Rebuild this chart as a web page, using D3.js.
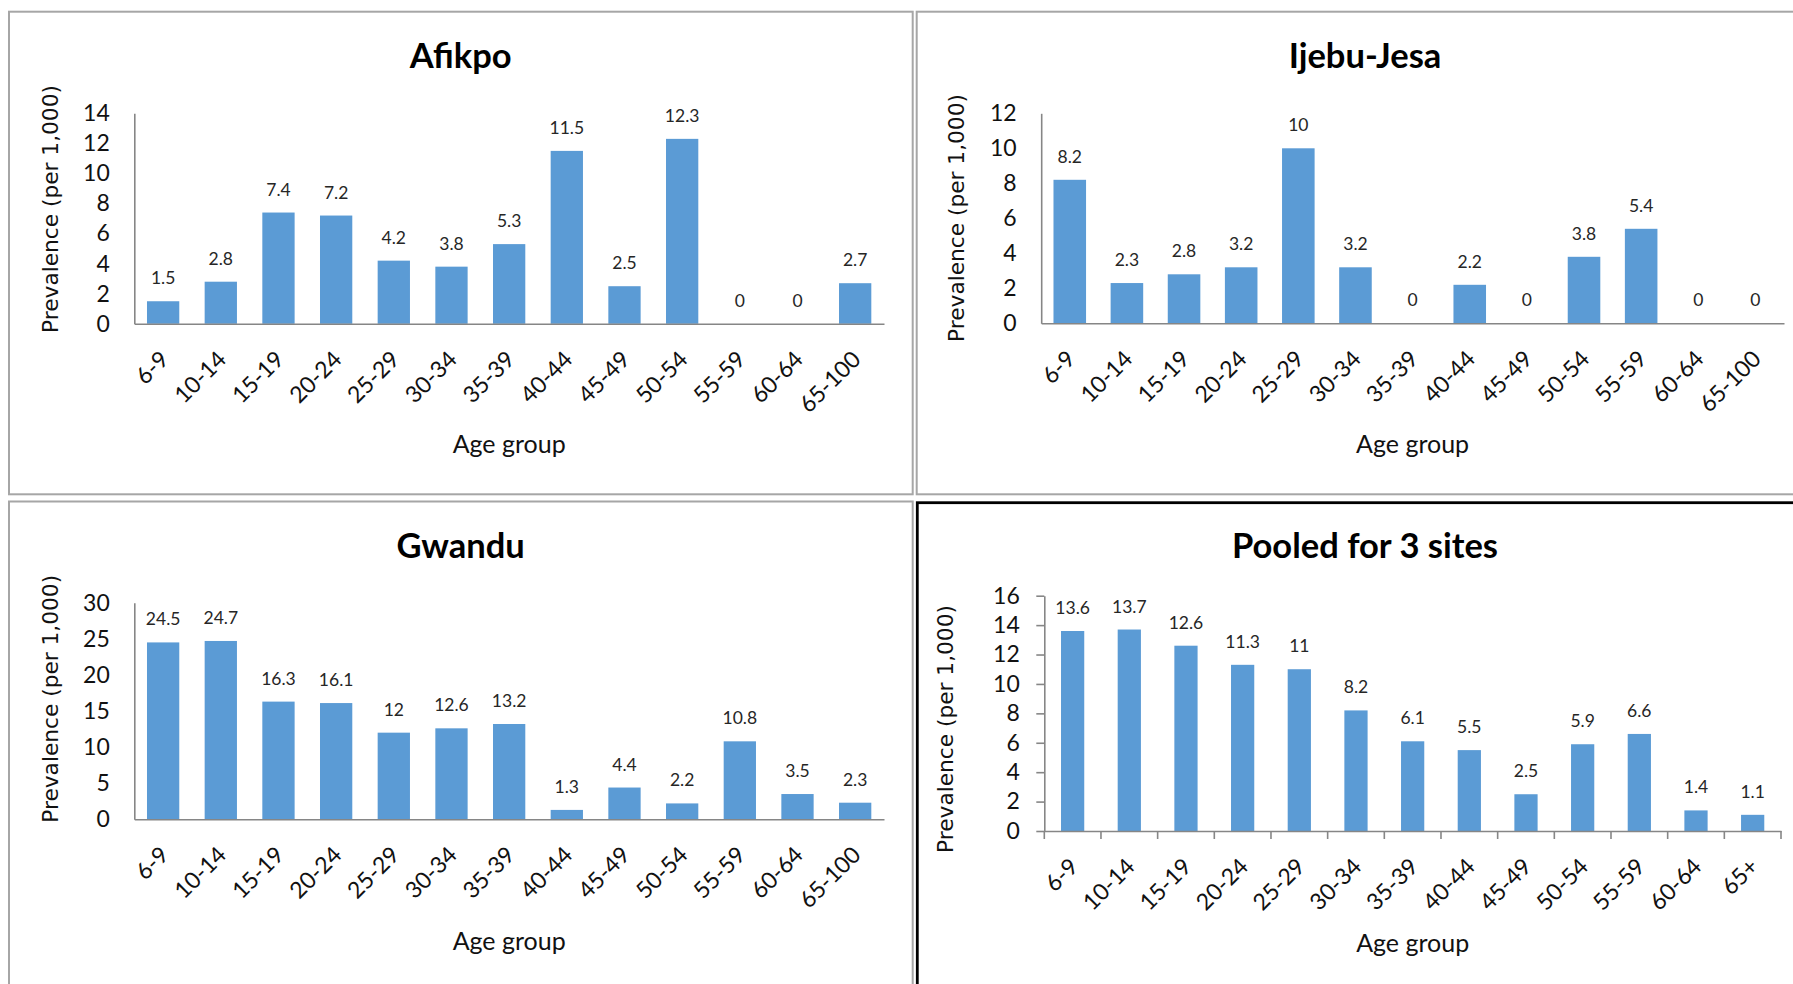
<!DOCTYPE html>
<html>
<head>
<meta charset="utf-8">
<script src="https://cdn.jsdelivr.net/npm/d3@7"></script>
<style>
  html, body { margin: 0; padding: 0; background: #fff; }
  svg { display: block; }
</style>
</head>
<body>
<svg id="chart" width="1793" height="984"></svg>
<script>
// Age groups used by the three site charts and by the pooled chart
const siteAgeGroups = ["6-9","10-14","15-19","20-24","25-29","30-34","35-39","40-44","45-49","50-54","55-59","60-64","65-100"];
const pooledAgeGroups = ["6-9","10-14","15-19","20-24","25-29","30-34","35-39","40-44","45-49","50-54","55-59","60-64","65+"];

// Prevalence per 1,000 by age group
const afikpoValues = [1.5, 2.8, 7.4, 7.2, 4.2, 3.8, 5.3, 11.5, 2.5, 12.3, 0, 0, 2.7];
const ijebuJesaValues = [8.2, 2.3, 2.8, 3.2, 10, 3.2, 0, 2.2, 0, 3.8, 5.4, 0, 0];
const gwanduValues = [24.5, 24.7, 16.3, 16.1, 12, 12.6, 13.2, 1.3, 4.4, 2.2, 10.8, 3.5, 2.3];
const pooledValues = [13.6, 13.7, 12.6, 11.3, 11, 8.2, 6.1, 5.5, 2.5, 5.9, 6.6, 1.4, 1.1];

// Y-axis tick labels for each chart
const afikpoTicks = [0, 2, 4, 6, 8, 10, 12, 14];
const ijebuJesaTicks = [0, 2, 4, 6, 8, 10, 12];
const gwanduTicks = [0, 5, 10, 15, 20, 25, 30];
const pooledTicks = [0, 2, 4, 6, 8, 10, 12, 14, 16];

const titles = ["Afikpo", "Ijebu-Jesa", "Gwandu", "Pooled for 3 sites"];
const yAxisTitle = "Prevalence (per 1,000)";
const xAxisTitle = "Age group";

// Layout of the four chart panels
const panels = [
  { title: titles[0], cats: siteAgeGroups, values: afikpoValues, ticks: afikpoTicks,
    frame: { x: 9, y: 11.7, w: 903.7, h: 482.6, stroke: "#a6a6a6", sw: 2 },
    plot: { left: 134.3, right: 884, top: 113.3, bottom: 323.8 },
    pad: 0.44, titleX: 460.7, titleY: 68.3, yTitleX: 58, yTitleY: 209, xTitleY: 453.3, boxTicks: false },
  { title: titles[1], cats: siteAgeGroups, values: ijebuJesaValues, ticks: ijebuJesaTicks,
    frame: { x: 916.7, y: 11.7, w: 1000, h: 482.6, stroke: "#a6a6a6", sw: 2 },
    plot: { left: 1041.2, right: 1784, top: 113.3, bottom: 323.3 },
    pad: 0.43, titleX: 1365, titleY: 68.3, yTitleX: 964, yTitleY: 218, xTitleY: 453.3, boxTicks: false },
  { title: titles[2], cats: siteAgeGroups, values: gwanduValues, ticks: gwanduTicks,
    frame: { x: 9, y: 501.5, w: 903.7, h: 600, stroke: "#a6a6a6", sw: 2 },
    plot: { left: 134.3, right: 884, top: 602.7, bottom: 819.3 },
    pad: 0.44, titleX: 460.7, titleY: 558.3, yTitleX: 58, yTitleY: 698.8, xTitleY: 950, boxTicks: false },
  { title: titles[3], cats: pooledAgeGroups, values: pooledValues, ticks: pooledTicks,
    frame: { x: 917.3, y: 502.7, w: 1000, h: 600, stroke: "#000", sw: 2.8 },
    plot: { left: 1044.3, right: 1781, top: 595.7, bottom: 831 },
    pad: 0.59, titleX: 1365, titleY: 558.3, yTitleX: 953, yTitleY: 729, xTitleY: 951.7, boxTicks: true }
];

const BAR = "#5b9bd5";
const AXIS = "#868686";
const CAL = "Lato, 'Open Sans', sans-serif";

const svg = d3.select("#chart");
svg.append("rect").attr("width", 1793).attr("height", 984).attr("fill", "#fff");

panels.forEach(p => {
  const g = svg.append("g");

  // panel frame
  g.append("rect")
    .attr("x", p.frame.x).attr("y", p.frame.y)
    .attr("width", p.frame.w).attr("height", p.frame.h)
    .attr("fill", "none").attr("stroke", p.frame.stroke).attr("stroke-width", p.frame.sw);

  const x = d3.scaleBand().domain(p.cats)
    .range([p.plot.left, p.plot.right])
    .paddingInner(p.pad).paddingOuter(p.pad / 2);
  const y = d3.scaleLinear().domain([0, d3.max(p.ticks)])
    .range([p.plot.bottom, p.plot.top]);

  // bars
  g.selectAll("rect.bar").data(p.values).join("rect")
    .attr("class", "bar")
    .attr("x", (d, i) => x(p.cats[i]))
    .attr("width", x.bandwidth())
    .attr("y", d => y(d))
    .attr("height", d => y(0) - y(d))
    .attr("fill", BAR);

  // value labels
  g.selectAll("text.val").data(p.values).join("text")
    .attr("class", "val")
    .attr("x", (d, i) => x(p.cats[i]) + x.bandwidth() / 2)
    .attr("y", d => y(d) - 17)
    .attr("text-anchor", "middle")
    .attr("font-family", CAL).attr("font-size", 17.5).attr("fill", "#262626")
    .text(d => d);

  // y axis
  const tickLen = p.boxTicks ? 8 : 0;
  const yAxis = d3.axisLeft(y).tickValues(p.ticks).tickFormat(d3.format("d"))
    .tickSize(tickLen).tickSizeOuter(0).tickPadding(24.5 - tickLen);
  const ya = g.append("g").attr("transform", `translate(${p.plot.left},0)`).call(yAxis);
  ya.select(".domain").attr("stroke", AXIS).attr("stroke-width", 1.6);
  ya.selectAll(".tick line").attr("stroke", AXIS).attr("stroke-width", 1.6);
  ya.selectAll(".tick text").attr("font-family", CAL).attr("font-size", 23).attr("fill", "#111");

  // x axis
  const xAxis = d3.axisBottom(x).tickSize(0).tickSizeOuter(0);
  const xa = g.append("g").attr("transform", `translate(0,${p.plot.bottom})`).call(xAxis);
  xa.select(".domain").attr("stroke", AXIS).attr("stroke-width", 1.6);
  xa.selectAll(".tick text")
    .attr("x", 0).attr("y", 0).attr("dy", 0)
    .attr("text-anchor", "end")
    .attr("transform", "translate(7,37) rotate(-45)")
    .attr("font-family", CAL).attr("font-size", 23).attr("fill", "#111");

  // category boundary tick marks on the pooled chart
  if (p.boxTicks) {
    const half = (x.step() - x.bandwidth()) / 2;
    const bounds = p.cats.map(c => x(c) - half).concat([x(p.cats[p.cats.length - 1]) + x.bandwidth() + half]);
    g.selectAll("line.bound").data(bounds).join("line")
      .attr("class", "bound")
      .attr("x1", d => d).attr("x2", d => d)
      .attr("y1", p.plot.bottom).attr("y2", p.plot.bottom + 8)
      .attr("stroke", AXIS).attr("stroke-width", 1.6);
  }

  // titles
  g.append("text")
    .attr("x", p.titleX).attr("y", p.titleY)
    .attr("text-anchor", "middle")
    .attr("font-family", CAL).attr("font-weight", "bold").attr("font-size", 34.5).attr("fill", "#000")
    .text(p.title);

  g.append("text")
    .attr("transform", `translate(${p.yTitleX},${p.yTitleY}) rotate(-90)`)
    .attr("text-anchor", "middle")
    .attr("font-family", "'DejaVu Sans', Verdana, sans-serif").attr("font-size", 21.7).attr("fill", "#111")
    .text(yAxisTitle);

  g.append("text")
    .attr("x", (p.plot.left + p.plot.right) / 2).attr("y", p.xTitleY)
    .attr("text-anchor", "middle")
    .attr("font-family", CAL).attr("font-size", 25).attr("fill", "#111")
    .text(xAxisTitle);
});
</script>
</body>
</html>
